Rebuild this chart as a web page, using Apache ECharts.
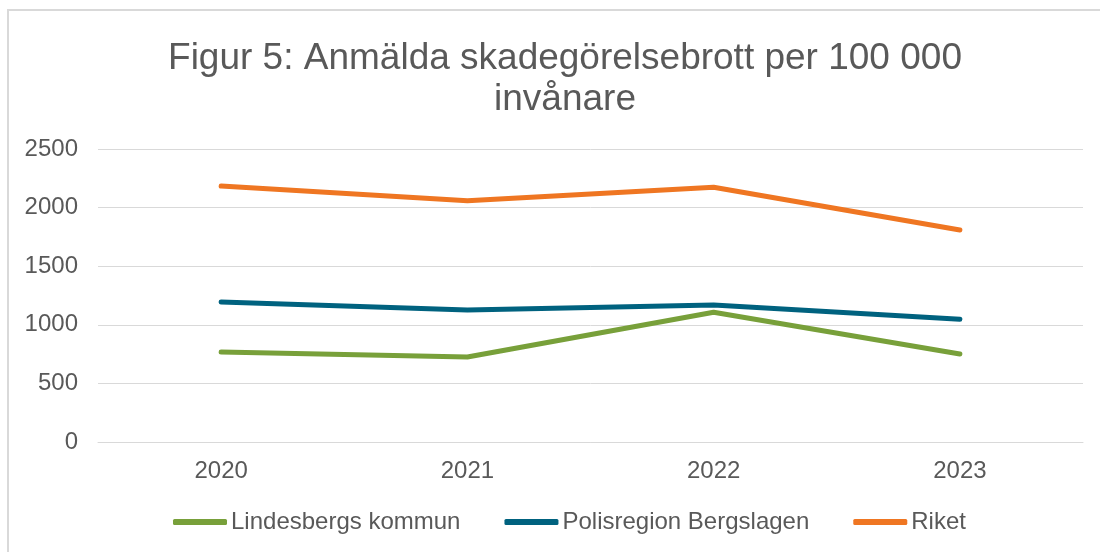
<!DOCTYPE html>
<html>
<head>
<meta charset="utf-8">
<script src="https://cdn.jsdelivr.net/npm/echarts@6/dist/echarts.min.js"></script>
<style>html,body{margin:0;padding:0;background:#fff}#c{width:1100px;height:552px}</style>
</head>
<body>
<div id="c"></div>
<script>
const titleText = 'Figur 5: Anmälda skadegörelsebrott per 100 000\ninvånare';
const years = ['2020', '2021', '2022', '2023'];
const lindesberg = [768, 725, 1107, 751];
const polisregion = [1195, 1126, 1169, 1047];
const riket = [2184, 2059, 2173, 1809];
const seriesNames = ['Lindesbergs kommun', 'Polisregion Bergslagen', 'Riket'];
const colors = ['#78a03a', '#00627f', '#ef7622'];

const chart = echarts.init(document.getElementById('c'));
const font = '"Liberation Sans", Arial, sans-serif';
const mk = (name, data, color) => ({
  name, type: 'line', data, symbol: 'none', showSymbol: false,
  lineStyle: { width: 5, color, cap: 'round', join: 'round' },
  itemStyle: { color }
});
chart.setOption({
  animation: false,
  textStyle: { fontFamily: font },
  graphic: [{
    type: 'rect', shape: { x: 8, y: 10, width: 1200, height: 700 },
    style: { fill: 'none', stroke: '#d9d9d9', lineWidth: 2 }, silent: true
  }],
  title: {
    text: titleText, left: 560, top: 33, textAlign: 'center',
    textStyle: { fontFamily: font, fontSize: 37, fontWeight: 'normal', color: '#595959', lineHeight: 41 }
  },
  grid: { left: 98, right: 17, top: 149, bottom: 110, containLabel: false },
  legend: {
    data: seriesNames, bottom: 13, left: 168, itemGap: 44,
    icon: 'roundRect', itemWidth: 54, itemHeight: 6,
    textStyle: { fontFamily: font, fontSize: 24, color: '#595959', padding: [0, 0, 0, -1] }
  },
  xAxis: {
    type: 'category', data: years, boundaryGap: true,
    axisLine: { show: true, lineStyle: { color: '#d9d9d9', width: 1 } },
    axisTick: { show: false },
    axisLabel: { fontFamily: font, fontSize: 24, color: '#595959', margin: 17 }
  },
  yAxis: {
    type: 'value', min: 0, max: 2500, interval: 500,
    axisLine: { show: false }, axisTick: { show: false },
    splitLine: { lineStyle: { color: '#d9d9d9', width: 1 } },
    axisLabel: { fontFamily: font, fontSize: 24, color: '#595959', margin: 20, formatter: v => String(v) }
  },
  series: [
    mk(seriesNames[0], lindesberg, colors[0]),
    mk(seriesNames[1], polisregion, colors[1]),
    mk(seriesNames[2], riket, colors[2])
  ]
});
</script>
</body>
</html>
